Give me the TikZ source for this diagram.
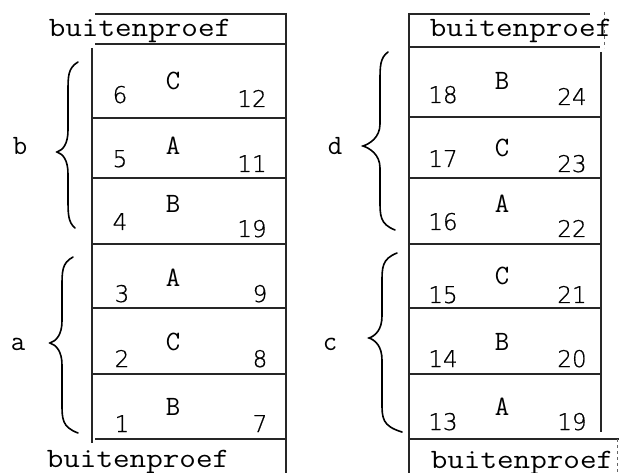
\documentclass[tikz,border=0pt]{standalone}
\usepackage{fontspec}
\usepackage{graphicx}
\newfontfamily\twfont{Latin Modern Mono}
\newfontfamily\digitfont[FakeBold=0.7]{DejaVu Sans ExtraLight}
\tikzset{
  rule/.style={line width=1.4pt, black!85},
  thinrule/.style={line width=0.6pt, black!60, dashed},
  tw/.style={font=\fontsize{28}{28}\selectfont\twfont, inner sep=0pt, anchor=base},
  num/.style={font=\fontsize{23}{23}\selectfont\digitfont, inner sep=0pt, anchor=base},
  br/.style={line width=1.6pt, line cap=round},
}
\newcommand\handbrace[7]{%
  \draw[br] (#1,#2) .. controls (#7,#2+6) and (#7,#2+14) .. (#7,#2+30)
    -- (#7,#6-22) .. controls (#7,#6-8) and (#5+6,#6-2) .. (#5,#6)
    .. controls (#5+6,#6+2) and (#7,#6+8) .. (#7,#6+22)
    -- (#7,#4-30) .. controls (#7,#4-14) and (#7,#4-6) .. (#3,#4);}
\begin{document}
\begin{tikzpicture}[x=1pt,y=-1pt]
\useasboundingbox (0,0) rectangle (619,473);
% ---------- left block ----------
\draw[rule] (92,48) -- (92,443);
\draw[rule] (286,13) -- (286,473);
\draw[rule] (95,14) -- (286,14);
\draw[rule] (95,44) -- (286,44);
\foreach \yy in {118,178,244,308,374} \draw[rule] (92,\yy) -- (286,\yy);
\draw[rule] (95,439) -- (286,439);
\node[tw] (ltop) at (140,37) {\scalebox{1.15}[1]{buitenproef}};
\node[tw] (lbot) at (138,467) {\scalebox{1.15}[1]{buitenproef}};
% rows left
\node[num] (n6) at (120,103) {6};  \node[tw] (l1) at (173,90) {C};  \node[num] (n12) at (252,107) {12};
\node[num] (n5) at (120,167) {5};  \node[tw] (l2) at (173,155) {A}; \node[num] (n11) at (252,172) {11};
\node[num] (n4) at (120,230) {4};  \node[tw] (l3) at (173,213) {B}; \node[num] (n10) at (252,237) {19};
\node[num] (n3) at (122,302) {3};  \node[tw] (l4) at (173,287) {A}; \node[num] (n9) at (260,302) {9};
\node[num] (n2) at (122,367) {2};  \node[tw] (l5) at (173,350) {C}; \node[num] (n8) at (260,367) {8};
\node[num] (n1) at (122,432) {1};  \node[tw] (l6) at (173,415) {B}; \node[num] (n7) at (260,432) {7};
% braces left
\handbrace{78}{62}{75}{228}{57}{152}{68}
\handbrace{73}{257}{78}{433}{50}{343}{62}
\node[tw] (lb) at (20,155) {b};
\node[tw] (la) at (18,350) {a};
% ---------- right block ----------
\draw[rule] (409,13) -- (409,473);
\draw[rule] (601,52) -- (601,432);
\draw[rule] (409,14) -- (590,14);
\draw[rule] (409,47) -- (600,47);
\draw[thinrule] (604,12) -- (604,48);
\foreach \yy in {117,178,244,308,374} \draw[rule] (409,\yy) -- (601,\yy);
\draw[rule] (409,439) -- (619,439);
\draw[thinrule] (617,439) -- (617,473);
\node[tw] (rtop) at (521,37) {\scalebox{1.15}[1]{buitenproef}};
\node[tw] (rbot) at (522,468) {\scalebox{1.15}[1]{buitenproef}};
% rows right
\node[num] (n18) at (443,103) {18}; \node[tw] (r1) at (502,90) {B};  \node[num] (n24) at (572,105) {24};
\node[num] (n17) at (443,167) {17}; \node[tw] (r2) at (502,157) {C}; \node[num] (n23) at (572,172) {23};
\node[num] (n16) at (443,230) {16}; \node[tw] (r3) at (502,213) {A}; \node[num] (n22) at (572,237) {22};
\node[num] (n15) at (443,303) {15}; \node[tw] (r4) at (502,285) {C}; \node[num] (n21) at (572,303) {21};
\node[num] (n14) at (443,367) {14}; \node[tw] (r5) at (502,350) {B}; \node[num] (n20) at (572,367) {20};
\node[num] (n13) at (443,430) {13}; \node[tw] (r6) at (502,415) {A}; \node[num] (n19) at (572,430) {19};
% braces right
\handbrace{388}{52}{395}{230}{363}{146}{380}
\handbrace{397}{253}{402}{432}{369}{338}{382}
\node[tw] (rd) at (335,155) {d};
\node[tw] (rc) at (330,350) {c};
\end{tikzpicture}
\end{document}
